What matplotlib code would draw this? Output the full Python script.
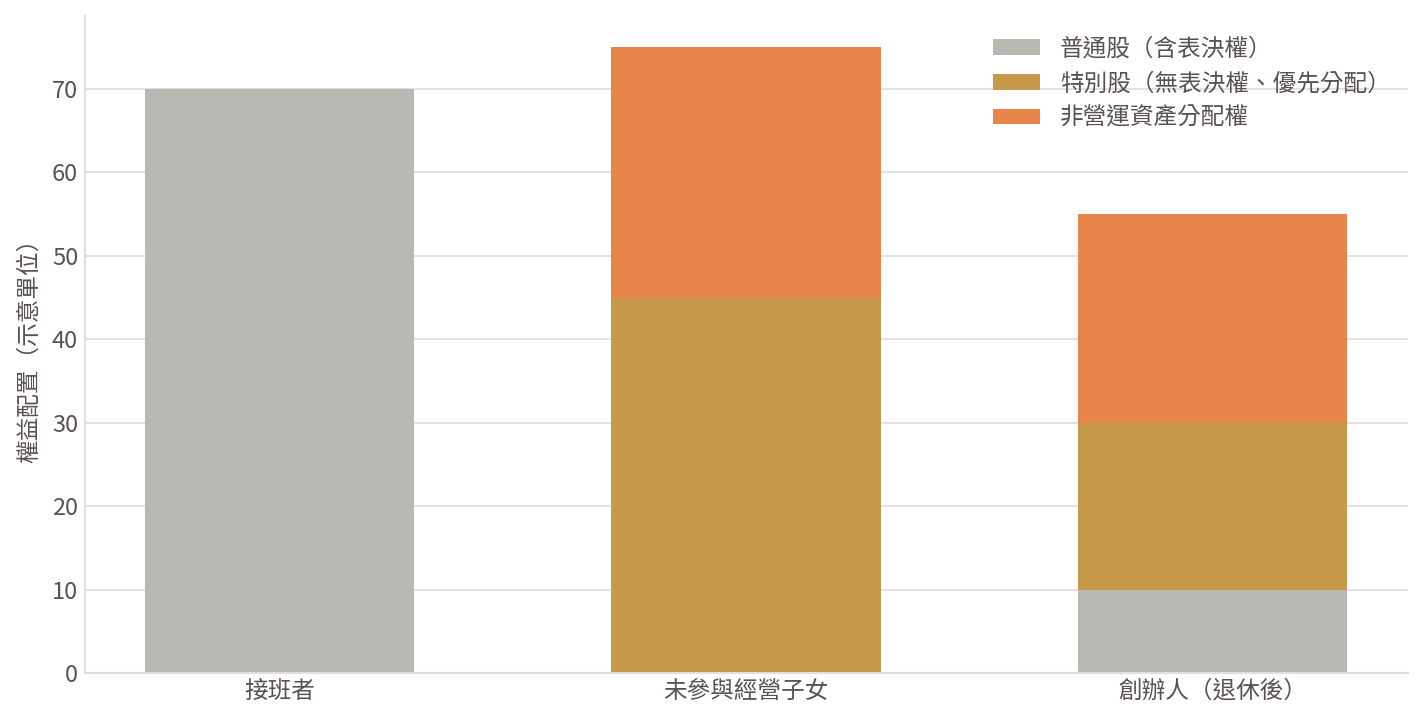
import matplotlib.pyplot as plt
import numpy as np

plt.rcParams['font.family'] = ['Noto Sans CJK TC', 'DejaVu Sans']
plt.rcParams['font.size'] = 17

categories = ['接班者', '未參與經營子女', '創辦人（退休後）']
common = [70, 0, 10]
preferred = [0, 45, 20]
non_operating = [0, 30, 25]
series_labels = ['普通股（含表決權）', '特別股（無表決權、優先分配）', '非營運資產分配權']
colors = ['#b7b9b2', '#c6994b', '#e8854a']

text_color = '#5a5156'
line_color = '#e2dfdb'

fig = plt.figure(figsize=(14.23, 7.2), dpi=100)
ax = fig.add_axes([85 / 1423, 1 - 673 / 720, (1408 - 85) / 1423, (673 - 16) / 720])

x = np.arange(len(categories))
width = 0.577
common = np.array(common)
preferred = np.array(preferred)
non_operating = np.array(non_operating)

ax.bar(x, common, width, color=colors[0], label=series_labels[0], zorder=2)
ax.bar(x, preferred, width, bottom=common, color=colors[1], label=series_labels[1], zorder=2)
ax.bar(x, non_operating, width, bottom=common + preferred, color=colors[2],
       label=series_labels[2], zorder=2)

ax.set_xlim(-0.417, 2.419)
ax.set_ylim(0, 78.75)
ax.set_xticks(x, categories)
ax.set_yticks(np.arange(0, 71, 10))
ax.set_ylabel('權益配置（示意單位）', color=text_color, labelpad=8)

ax.grid(axis='y', color=line_color, linewidth=1.3, zorder=0)
ax.set_axisbelow(True)
for side in ['top', 'right']:
    ax.spines[side].set_visible(False)
for side in ['left', 'bottom']:
    ax.spines[side].set_color(line_color)
    ax.spines[side].set_linewidth(1.5)
ax.tick_params(length=0, colors=text_color, pad=5)

ax.legend(loc='upper right', frameon=False, handlelength=2.0, handleheight=0.65,
          handletextpad=0.85, labelspacing=0.5, labelcolor=text_color,
          bbox_to_anchor=(1.003, 1.0))

fig.savefig('out.png', dpi=100)
